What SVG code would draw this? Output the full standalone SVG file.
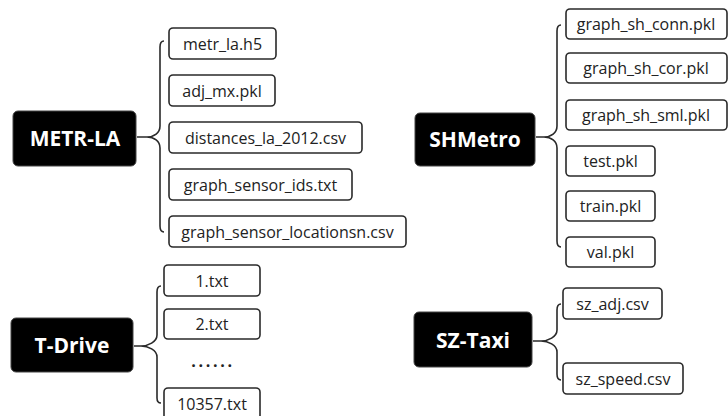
<svg xmlns="http://www.w3.org/2000/svg" width="728" height="416" viewBox="0 0 728 416">
<style>
.bg{fill:#fff}
.node rect{fill:#000;stroke:#444;stroke-width:1}
.node text{fill:#fff;font-family:"Open Sans","Noto Sans",sans-serif;font-weight:bold;font-size:21px;text-anchor:middle;dominant-baseline:central}
.file rect{fill:#fff;stroke:#2a2a2a;stroke-width:1.6}
.file text{fill:#222;font-family:"Open Sans","Noto Sans",sans-serif;font-size:16px;text-anchor:middle;dominant-baseline:central}
.conn path{fill:none;stroke:#2a2a2a;stroke-width:1.6}
</style>
<rect class="bg" x="0" y="0" width="728" height="416"/>
<g id="connectors" class="conn">
<path d="M137,137 H147 C154,137 160,133 160,126 V47 C160,43 161,41 164,41 M147,137 C154,137 160,141 160,148 V226 C160,230 161,232 164,232"/>
<path d="M536,137 H544 C551,137 557,133 557,126 V31 C557,27 558,25 561,25 M544,137 C551,137 557,141 557,148 V241 C557,245 558,247 561,247"/>
<path d="M134,346 H141 C148,346 157,342 157,335 V292 C157,288 158,286 161,286 M141,346 C148,346 157,350 157,357 V398 C157,401 158,403 161,403"/>
<path d="M533,341 H541 C548,341 557,337 557,330 V310 C557,306 558,304 561,304 M541,341 C548,341 557,345 557,352 V374 C557,378 558,380 561,380"/>
</g>
<g id="metr-la" class="node"><rect x="13" y="111" width="123" height="55" rx="5"/><text x="75" y="138">METR-LA</text></g>
<g id="metr_la_h5" class="file"><rect x="169" y="28" width="107" height="31" rx="4"/><text x="222.5" y="43.5">metr_la.h5</text></g>
<g id="adj_mx" class="file"><rect x="169" y="75" width="106" height="31" rx="4"/><text x="222" y="90.5">adj_mx.pkl</text></g>
<g id="distances" class="file"><rect x="169" y="122" width="193" height="31" rx="4"/><text x="265.5" y="137.5">distances_la_2012.csv</text></g>
<g id="sensor_ids" class="file"><rect x="169" y="169" width="183" height="31" rx="4"/><text x="260.5" y="184.5">graph_sensor_ids.txt</text></g>
<g id="sensor_locations" class="file"><rect x="169" y="216" width="237" height="31" rx="4"/><text x="287.5" y="231.5">graph_sensor_locationsn.csv</text></g>

<g id="shmetro" class="node"><rect x="415" y="113" width="120" height="53" rx="5"/><text x="475" y="139">SHMetro</text></g>
<g id="sh_conn" class="file"><rect x="566" y="9" width="161" height="30" rx="4"/><text x="646" y="24">graph_sh_conn.pkl</text></g>
<g id="sh_cor" class="file"><rect x="566" y="53" width="161" height="30" rx="4"/><text x="646" y="68">graph_sh_cor.pkl</text></g>
<g id="sh_sml" class="file"><rect x="566" y="100" width="161" height="30" rx="4"/><text x="646" y="115">graph_sh_sml.pkl</text></g>
<g id="test" class="file"><rect x="566" y="146" width="89" height="30" rx="4"/><text x="610.5" y="161">test.pkl</text></g>
<g id="train" class="file"><rect x="566" y="191" width="89" height="30" rx="4"/><text x="610.5" y="206">train.pkl</text></g>
<g id="val" class="file"><rect x="566" y="237" width="89" height="30" rx="4"/><text x="610.5" y="252">val.pkl</text></g>

<g id="t-drive" class="node"><rect x="11" y="318" width="122" height="54" rx="5"/><text x="72" y="345">T-Drive</text></g>
<g id="t1" class="file"><rect x="164" y="265" width="96" height="31" rx="4"/><text x="212" y="280.5">1.txt</text></g>
<g id="t2" class="file"><rect x="164" y="309" width="96" height="30" rx="4"/><text x="212" y="324">2.txt</text></g>
<g id="tdots" class="file"><text x="213" y="361" style="letter-spacing:2.7px;font-size:16px;font-weight:bold">......</text></g>
<g id="t10357" class="file"><rect x="164" y="388" width="96" height="32" rx="4"/><text x="212" y="404">10357.txt</text></g>

<g id="sz-taxi" class="node"><rect x="414" y="312" width="118" height="55" rx="5"/><text x="473" y="339.5">SZ-Taxi</text></g>
<g id="sz_adj" class="file"><rect x="563" y="288" width="99" height="31" rx="4"/><text x="612.5" y="303.5">sz_adj.csv</text></g>
<g id="sz_speed" class="file"><rect x="563" y="363" width="120" height="31" rx="4"/><text x="623" y="378.5">sz_speed.csv</text></g>
</svg>
